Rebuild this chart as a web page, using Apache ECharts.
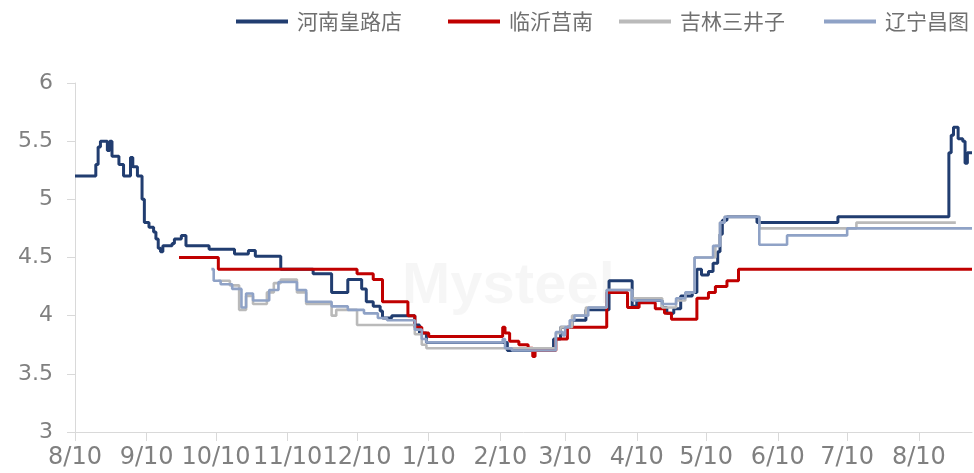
<!DOCTYPE html>
<html>
<head>
<meta charset="utf-8">
<script src="https://cdn.jsdelivr.net/npm/echarts@6/dist/echarts.min.js"></script>
<style>
  html, body { margin: 0; padding: 0; background: #ffffff; }
  #chart { width: 974px; height: 473px; }
</style>
</head>
<body>
<div id="chart"></div>
<script>
// Daily price range shown on the x axis
const startDate = '2022-08-10';
const endDate = '2023-09-02';

// Monthly ticks (the 10th of each month)
const tickDates = [
  '2022-08-10', '2022-09-10', '2022-10-10', '2022-11-10', '2022-12-10',
  '2023-01-10', '2023-02-10', '2023-03-10', '2023-04-10', '2023-05-10',
  '2023-06-10', '2023-07-10', '2023-08-10'
];

// Y axis range
const yMin = 3;
const yMax = 6;
const yStep = 0.5;

const seriesNames = ['河南皇路店', '临沂莒南', '吉林三井子', '辽宁昌图'];

// Price change points (the price holds until the next date)
const henanDates = [
  '2022-08-10', '2022-08-19', '2022-08-20', '2022-08-21', '2022-08-24', '2022-08-25',
  '2022-08-26', '2022-08-29', '2022-08-31', '2022-09-03', '2022-09-04', '2022-09-06',
  '2022-09-08', '2022-09-09', '2022-09-11', '2022-09-13', '2022-09-14', '2022-09-15',
  '2022-09-16', '2022-09-17', '2022-09-21', '2022-09-22', '2022-09-25', '2022-09-27',
  '2022-10-07', '2022-10-18', '2022-10-24', '2022-10-27', '2022-11-07', '2022-11-21',
  '2022-11-29', '2022-12-06', '2022-12-12', '2022-12-14', '2022-12-17', '2022-12-20',
  '2022-12-21', '2022-12-25', '2023-01-04', '2023-01-06', '2023-01-09', '2023-02-13',
  '2023-03-05', '2023-03-08', '2023-03-13', '2023-03-19', '2023-03-29', '2023-04-08',
  '2023-04-10', '2023-04-21', '2023-04-23', '2023-04-26', '2023-04-29', '2023-05-04',
  '2023-05-06', '2023-05-08', '2023-05-11', '2023-05-13', '2023-05-15', '2023-05-16',
  '2023-05-17', '2023-05-19', '2023-06-01', '2023-07-06', '2023-08-23', '2023-08-24',
  '2023-08-25', '2023-08-27', '2023-08-29', '2023-08-30', '2023-08-31', '2023-09-02'
];
const henanValues = [
  5.2, 5.3, 5.45, 5.5, 5.42, 5.5,
  5.37, 5.3, 5.2, 5.36, 5.28, 5.2,
  5.0, 4.8, 4.76, 4.72, 4.66, 4.58,
  4.55, 4.6, 4.62, 4.66, 4.69, 4.6,
  4.57, 4.53, 4.56, 4.51, 4.4, 4.36,
  4.2, 4.31, 4.23, 4.12, 4.08, 4.04,
  3.98, 4.0, 3.92, 3.85, 3.77, 3.7,
  3.8, 3.9, 3.96, 4.05, 4.3, 4.08,
  4.13, 4.07, 4.02, 4.06, 4.17, 4.2,
  4.4, 4.35, 4.38, 4.45, 4.55, 4.7,
  4.82, 4.85, 4.8, 4.85, 5.4, 5.55,
  5.62, 5.52, 5.5, 5.31, 5.4, 5.4
];

const linyiDates = [
  '2022-09-24', '2022-10-11', '2022-12-10', '2022-12-17', '2022-12-21', '2023-01-01',
  '2023-01-04', '2023-01-07', '2023-01-10', '2023-02-11', '2023-02-12', '2023-02-14',
  '2023-02-18', '2023-02-22', '2023-02-24', '2023-02-25', '2023-03-06', '2023-03-11',
  '2023-03-28', '2023-04-06', '2023-04-11', '2023-04-18', '2023-04-22', '2023-04-25',
  '2023-05-06', '2023-05-11', '2023-05-14', '2023-05-19', '2023-05-24', '2023-09-02'
];
const linyiValues = [
  4.5, 4.4, 4.36, 4.31, 4.12, 4.0,
  3.9, 3.85, 3.82, 3.9, 3.85, 3.78,
  3.75, 3.72, 3.65, 3.7, 3.8, 3.9,
  4.2, 4.07, 4.11, 4.06, 4.02, 3.97,
  4.15, 4.2, 4.25, 4.3, 4.4, 4.4
];

const jilinDates = [
  '2022-10-11', '2022-10-16', '2022-10-20', '2022-10-23', '2022-10-26', '2022-11-01',
  '2022-11-04', '2022-11-07', '2022-11-14', '2022-11-18', '2022-11-29', '2022-12-01',
  '2022-12-10', '2023-01-04', '2023-01-07', '2023-01-09', '2023-03-06', '2023-03-08',
  '2023-03-13', '2023-03-19', '2023-03-28', '2023-04-08', '2023-04-21', '2023-04-27',
  '2023-05-01', '2023-05-05', '2023-05-14', '2023-05-16', '2023-05-18', '2023-06-02',
  '2023-07-14', '2023-08-26'
];
const jilinValues = [
  4.3, 4.26, 4.05, 4.17, 4.1, 4.2,
  4.28, 4.31, 4.2, 4.1, 4.0, 4.05,
  3.92, 3.84, 3.75, 3.72, 3.85, 3.9,
  4.0, 4.07, 4.22, 4.15, 4.07, 4.13,
  4.2, 4.5, 4.6, 4.8, 4.85, 4.75,
  4.8, 4.8
];

const liaoningDates = [
  '2022-10-08', '2022-10-09', '2022-10-12', '2022-10-17', '2022-10-21', '2022-10-23',
  '2022-10-26', '2022-11-02', '2022-11-06', '2022-11-14', '2022-11-18', '2022-11-29',
  '2022-12-06', '2022-12-13', '2022-12-19', '2022-12-23', '2023-01-04', '2023-01-07',
  '2023-01-09', '2023-02-11', '2023-02-12', '2023-02-15', '2023-03-06', '2023-03-09',
  '2023-03-10', '2023-03-12', '2023-03-14', '2023-03-20', '2023-03-28', '2023-04-08',
  '2023-04-21', '2023-04-27', '2023-05-01', '2023-05-05', '2023-05-13', '2023-05-16',
  '2023-05-18', '2023-06-02', '2023-06-14', '2023-07-10', '2023-09-02'
];
const liaoningValues = [
  4.4, 4.3, 4.27, 4.23, 4.07, 4.19,
  4.13, 4.22, 4.29, 4.22, 4.12, 4.08,
  4.05, 4.02, 3.98, 3.96, 3.88, 3.8,
  3.77, 3.8, 3.72, 3.7, 3.86, 3.83,
  3.9, 3.96, 4.0, 4.07, 4.22, 4.13,
  4.1, 4.15, 4.2, 4.5, 4.6, 4.8,
  4.85, 4.61, 4.69, 4.75, 4.75
];

const seriesColors = ['#213d70', '#c00000', '#bababa', '#8fa2c6'];
const seriesWidths = [3, 3, 2.6, 2.6];
const legendLefts = [236, 448, 619, 824];

// Build the daily category list
function buildDays(from, to) {
  const out = [];
  const d = new Date(from + 'T00:00:00Z');
  const end = new Date(to + 'T00:00:00Z');
  while (d <= end) {
    out.push(d.toISOString().slice(0, 10));
    d.setUTCDate(d.getUTCDate() + 1);
  }
  return out;
}
const days = buildDays(startDate, endDate);
const tickSet = new Set(tickDates);
const isTick = (idx, val) => tickSet.has(val);

function pairs(dates, values) {
  return dates.map((d, i) => [d, values[i]]);
}
const seriesData = [
  pairs(henanDates, henanValues),
  pairs(linyiDates, linyiValues),
  pairs(jilinDates, jilinValues),
  pairs(liaoningDates, liaoningValues)
];

const axisGray = '#d9d9d9';
const labelGray = '#808080';

const chart = echarts.init(document.getElementById('chart'), null, { renderer: 'canvas' });
chart.setOption({
  animation: false,
  backgroundColor: '#ffffff',
  legend: seriesNames.map((name, i) => ({
    data: [name],
    left: legendLefts[i],
    top: 11,
    padding: 0,
    icon: 'rect',
    itemWidth: 52,
    itemHeight: 4,
    itemGap: 0,
    selectedMode: false,
    textStyle: {
      fontFamily: '"Noto Sans CJK SC", sans-serif',
      fontSize: 21,
      color: '#707070',
      padding: [0, 0, 0, 4]
    }
  })),
  graphic: [{
    type: 'text',
    left: 402,
    top: 258,
    silent: true,
    z: 0,
    style: {
      text: 'Mysteel',
      font: 'bold 58px "Liberation Sans", sans-serif',
      fill: 'rgba(0,0,0,0.035)'
    }
  }],
  grid: { left: 75, right: 2, top: 83, bottom: 41 },
  xAxis: {
    type: 'category',
    data: days,
    boundaryGap: false,
    axisLine: { show: true, lineStyle: { color: axisGray, width: 1 } },
    axisTick: { show: true, interval: isTick, length: 9, lineStyle: { color: axisGray } },
    axisLabel: {
      interval: isTick,
      margin: 14,
      fontFamily: '"DejaVu Sans", sans-serif',
      fontSize: 24,
      color: labelGray,
      formatter: v => {
        const p = v.split('-');
        return parseInt(p[1], 10) + '/' + parseInt(p[2], 10);
      }
    },
    splitLine: { show: false }
  },
  yAxis: {
    type: 'value',
    min: yMin,
    max: yMax,
    interval: yStep,
    axisLine: { show: true, lineStyle: { color: axisGray, width: 1 } },
    axisTick: { show: true, length: 8, lineStyle: { color: axisGray } },
    axisLabel: {
      margin: 22,
      fontFamily: '"DejaVu Sans", sans-serif',
      fontSize: 22,
      color: labelGray
    },
    splitLine: { show: false }
  },
  series: seriesNames.map((name, i) => ({
    name: name,
    type: 'line',
    step: 'end',
    data: seriesData[i],
    showSymbol: false,
    symbol: 'none',
    color: seriesColors[i],
    lineStyle: { color: seriesColors[i], width: seriesWidths[i] },
    z: 2 + i
  }))
});
</script>
</body>
</html>
